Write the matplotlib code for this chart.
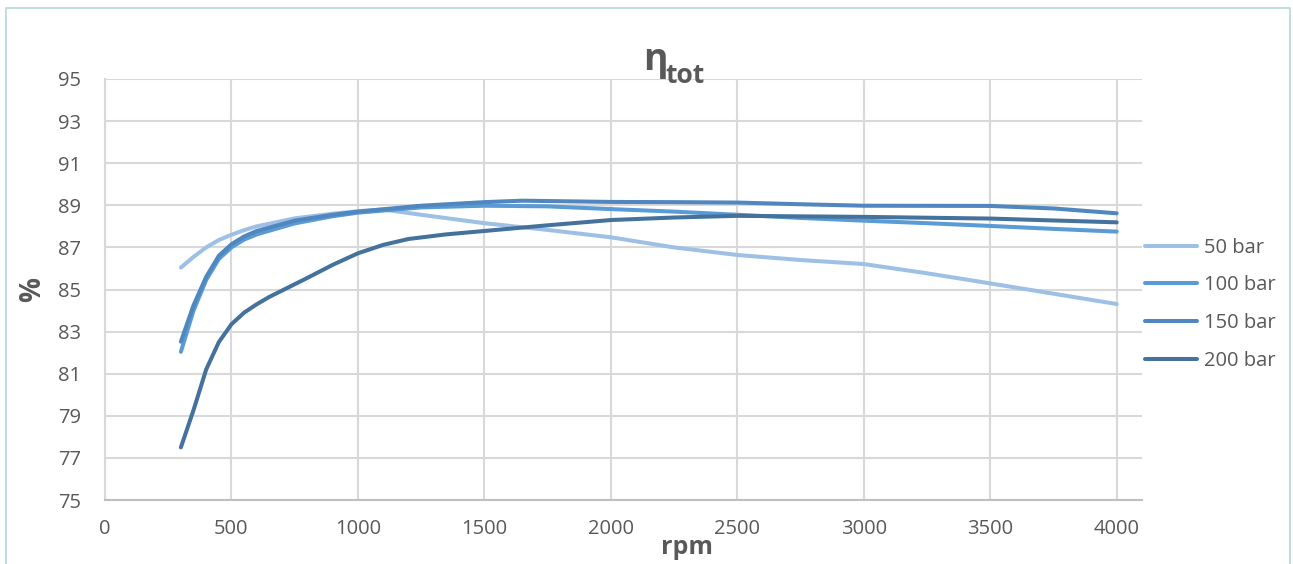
import matplotlib
matplotlib.use("Agg")
import matplotlib.pyplot as plt
from matplotlib.patches import Rectangle

# Total efficiency versus shaft speed for four pressure levels
rpm_50 = [300, 350, 400, 450, 500, 550, 600, 750, 900, 1000, 1100, 1250, 1500, 1750,
          2000, 2250, 2500, 2750, 3000, 3250, 3500, 3750, 4000]
eta_50 = [86.04, 86.55, 87.0, 87.35, 87.6, 87.82, 88.0, 88.38, 88.6, 88.72, 88.8, 88.55,
          88.15, 87.83, 87.48, 87.0, 86.64, 86.4, 86.21, 85.77, 85.29, 84.8, 84.31]

rpm_100 = [300, 350, 400, 450, 500, 550, 600, 750, 900, 1000, 1250, 1500, 1750, 2000,
           2250, 2500, 2750, 3000, 3250, 3500, 3750, 4000]
eta_100 = [82.04, 84.0, 85.45, 86.45, 87.0, 87.37, 87.62, 88.14, 88.48, 88.65, 88.9, 88.98,
           88.95, 88.82, 88.7, 88.55, 88.4, 88.27, 88.15, 88.02, 87.88, 87.75]

rpm_150 = [300, 350, 400, 450, 500, 550, 600, 750, 900, 1000, 1250, 1500, 1650, 2000,
           2250, 2500, 2750, 3000, 3500, 3750, 4000]
eta_150 = [82.52, 84.25, 85.6, 86.6, 87.15, 87.52, 87.78, 88.27, 88.55, 88.7, 88.98, 89.15,
           89.22, 89.16, 89.15, 89.13, 89.05, 88.98, 88.97, 88.85, 88.62]

rpm_200 = [300, 350, 400, 450, 500, 550, 600, 650, 700, 800, 900, 1000, 1100, 1200, 1350,
           1500, 1750, 2000, 2250, 2500, 3000, 3500, 4000]
eta_200 = [77.5, 79.27, 81.2, 82.5, 83.35, 83.9, 84.3, 84.65, 84.95, 85.55, 86.17, 86.72,
           87.12, 87.4, 87.62, 87.78, 88.05, 88.3, 88.42, 88.5, 88.45, 88.37, 88.19]

series_labels = ["50 bar", "100 bar", "150 bar", "200 bar"]
series_colors = ["#9dc0e4", "#5a9bd5", "#4f87be", "#44729d"]

x_ticks = [0, 500, 1000, 1500, 2000, 2500, 3000, 3500, 4000]
y_ticks = [75, 77, 79, 81, 83, 85, 87, 89, 91, 93, 95]

text_color = "#595959"
grid_color = "#d9d9d9"

plt.rcParams["font.family"] = ["Open Sans", "DejaVu Sans"]

W, H = 1293, 564
fig = plt.figure(figsize=(W / 100, H / 100), dpi=100)
ax = fig.add_axes([105 / W, 1 - 500 / H, (1142 - 105) / W, (500 - 79) / H])

series = [(rpm_50, eta_50), (rpm_100, eta_100), (rpm_150, eta_150), (rpm_200, eta_200)]
for (xs, ys), lab, col in zip(series, series_labels, series_colors):
    ax.plot(xs, ys, color=col, lw=2.9, label=lab, solid_capstyle="round",
            solid_joinstyle="round", zorder=3)

ax.set_xlim(0, 4100)
ax.set_ylim(75, 95)
ax.set_xticks(x_ticks)
ax.set_yticks(y_ticks)
ax.grid(True, color=grid_color, lw=1.5, zorder=0)
ax.set_axisbelow(True)
for side in ["top", "right"]:
    ax.spines[side].set_visible(False)
ax.spines["left"].set_color(grid_color)
ax.spines["left"].set_linewidth(1.5)
ax.spines["bottom"].set_color("#bfbfbf")
ax.spines["bottom"].set_linewidth(1.5)
ax.tick_params(axis="both", length=0, labelsize=14.5, labelcolor=text_color)
ax.tick_params(axis="y", pad=17)
ax.tick_params(axis="x", pad=14)

leg = ax.legend(loc="center left", bbox_to_anchor=(0.995, 0.465), frameon=False,
                fontsize=14.5, handlelength=2.6, handletextpad=0.35,
                labelspacing=0.88, borderaxespad=0)
for t in leg.get_texts():
    t.set_color(text_color)

# Title: eta with "tot" subscript
fig.text(643 / W, 1 - 70 / H, "η", fontsize=27, fontweight="bold",
         color=text_color, ha="left", va="baseline")
fig.text(665 / W, 1 - 83 / H, "tot", fontsize=19, fontweight="bold",
         color=text_color, ha="left", va="baseline")

fig.text(33 / W, 1 - 289 / H, "%", fontsize=20, fontweight="bold",
         color=text_color, ha="center", va="center", rotation=90)
fig.text(687 / W, 1 - 548 / H, "rpm", fontsize=18, fontweight="bold",
         color=text_color, ha="center", va="center")

fig.patches.append(Rectangle((6 / W, -0.05), (1290 - 6) / W, 1 - 8 / H + 0.05,
                             transform=fig.transFigure, fill=False,
                             edgecolor="#b3d9d9", lw=1.2, zorder=10))

fig.savefig("out.png", dpi=100, facecolor="white")
